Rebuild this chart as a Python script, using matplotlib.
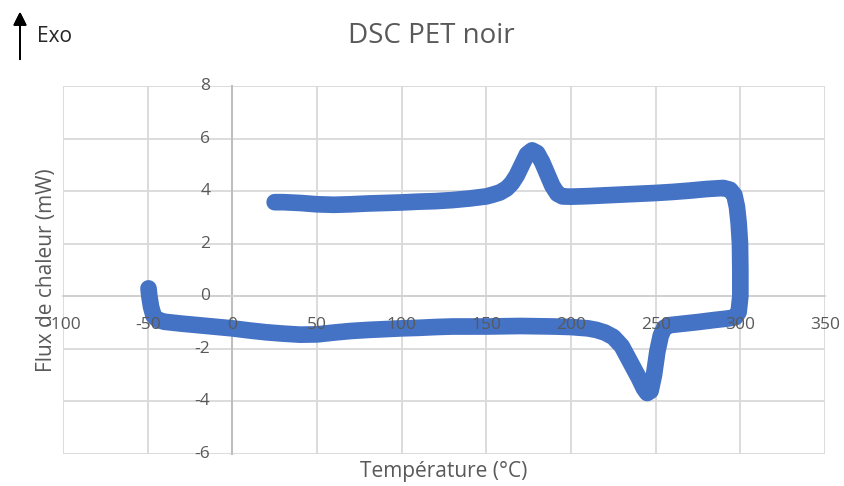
import matplotlib.pyplot as plt
from matplotlib.transforms import offset_copy

# DSC run: heating from -50 to 300 °C (bottom), then cooling back to 25 °C (top)
temperature = [
    -49.5, -49, -48, -46.5, -44, -40, -30, -20, -10, 0, 10, 20, 30, 40, 50,
    60, 70, 80, 90, 100, 110, 120, 130, 140, 150, 160, 170, 180, 190, 200,
    210, 215, 220, 225, 230, 235, 240, 243, 245, 247, 249, 251, 253, 255,
    258, 265, 275, 285, 292, 297, 299, 300, 300, 299.8, 299, 298, 296.5,
    294, 290, 280, 270, 260, 250, 240, 230, 220, 210, 200, 195, 192, 189,
    186, 183, 180, 177, 174, 171, 168, 165, 162, 158, 154, 150, 140, 130,
    120, 110, 100, 90, 80, 70, 60, 50, 40, 30, 25,
]
heat_flow = [
    0.3, 0.0, -0.4, -0.75, -0.9, -0.97, -1.04, -1.1, -1.16, -1.22, -1.3,
    -1.37, -1.42, -1.46, -1.45, -1.38, -1.32, -1.28, -1.25, -1.22, -1.2,
    -1.17, -1.15, -1.15, -1.15, -1.14, -1.13, -1.14, -1.15, -1.17, -1.22,
    -1.28, -1.38, -1.55, -1.9, -2.5, -3.1, -3.5, -3.68, -3.6, -3.0, -2.1,
    -1.5, -1.2, -1.1, -1.05, -0.98, -0.9, -0.85, -0.8, -0.6, 0.0, 1.0, 2.0,
    2.8, 3.4, 3.85, 4.05, 4.12, 4.08, 4.02, 3.97, 3.93, 3.9, 3.87, 3.84,
    3.81, 3.79, 3.8, 3.9, 4.2, 4.65, 5.1, 5.45, 5.55, 5.4, 5.0, 4.6, 4.3,
    4.1, 3.95, 3.87, 3.8, 3.72, 3.66, 3.62, 3.6, 3.57, 3.55, 3.53, 3.5,
    3.48, 3.5, 3.55, 3.58, 3.58,
]
x_ticks = [-100, -50, 0, 50, 100, 150, 200, 250, 300, 350]
y_ticks = [-6, -4, -2, 0, 2, 4, 6, 8]

plt.rcParams["font.family"] = ["Open Sans", "DejaVu Sans"]

fig = plt.figure(figsize=(8.44, 4.86), dpi=100)
ax = fig.add_axes([63 / 844, 1 - 454 / 486, 762 / 844, 368 / 486])

ax.plot(temperature, heat_flow, color="#4472C4", linewidth=12,
        solid_capstyle="round", solid_joinstyle="round", zorder=3)

ax.set_xlim(-100, 350)
ax.set_ylim(-6, 8)
ax.set_xticks(x_ticks)
ax.set_yticks(y_ticks)
ax.grid(True, color="#d9d9d9", linewidth=1.3, zorder=0)
ax.set_axisbelow(True)

ax.spines["left"].set_position(("data", 0))
ax.spines["bottom"].set_position(("data", 0))
ax.spines["left"].set_color("#bfbfbf")
ax.spines["left"].set_linewidth(1.5)
ax.spines["bottom"].set_color("#d0d0d0")
ax.spines["bottom"].set_linewidth(1.3)
ax.spines["top"].set_visible(False)
ax.spines["right"].set_visible(False)
ax.tick_params(length=0, labelleft=False, labelbottom=False)

# tick labels as texts so they sit on top of the curve, like Excel does
x_lab = offset_copy(ax.transData, fig=fig, x=0, y=-29, units="dots")
for t in x_ticks:
    ax.text(t, 0, str(t), transform=x_lab, ha="center", va="center",
            fontsize=12.5, color="#595959", zorder=5, clip_on=False)
y_lab = offset_copy(ax.transData, fig=fig, x=-22, y=0, units="dots")
for t in y_ticks:
    ax.text(0, t, str(t), transform=y_lab, ha="right", va="center",
            fontsize=12.5, color="#595959", zorder=5, clip_on=False)

fig.text(431 / 844, 1 - 36 / 486, "DSC PET noir", fontsize=20,
         color="#595959", ha="center", va="center")
fig.text(47 / 844, 1 - 270 / 486, "Flux de chaleur (mW)", fontsize=15,
         color="#595959", rotation=90, ha="center", va="center")
fig.text(444 / 844, 1 - 471 / 486, "Température (°C)", fontsize=15,
         color="#595959", ha="center", va="center")

fig.text(37 / 844, 1 - 37 / 486, "Exo", fontsize=15, color="#262626",
         ha="left", va="center")
fig.add_artist(plt.annotate("", xy=(20 / 844, 1 - 9 / 486),
                            xytext=(20 / 844, 1 - 62 / 486),
                            xycoords="figure fraction",
                            arrowprops=dict(arrowstyle="-|>", color="black",
                                            lw=1.3, mutation_scale=20)))

plt.savefig("out.png", dpi=100)
